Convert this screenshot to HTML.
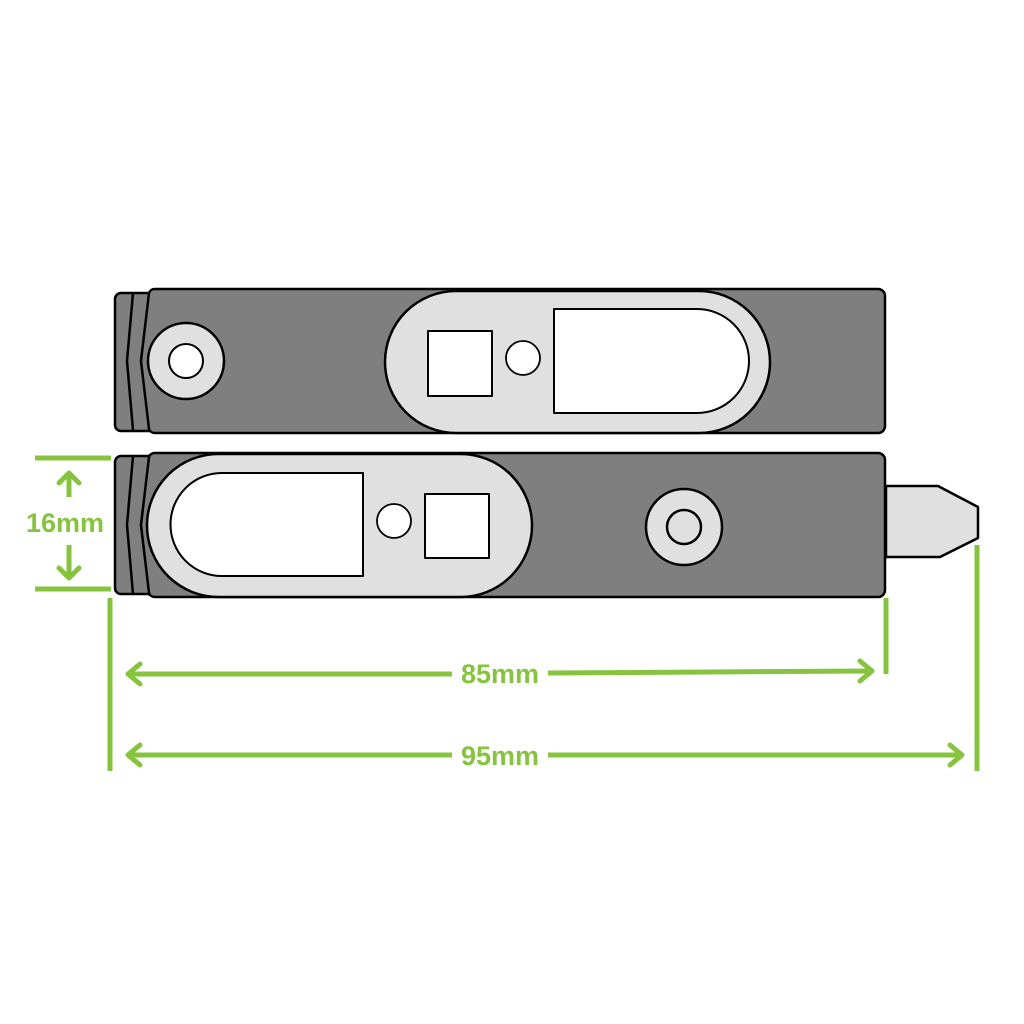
<!DOCTYPE html>
<html><head><meta charset="utf-8"><style>html,body{margin:0;padding:0;background:#fff}svg{display:block}</style></head>
<body>
<svg width="1024" height="1024" viewBox="0 0 1024 1024" xmlns="http://www.w3.org/2000/svg">
<rect width="1024" height="1024" fill="#fff"/>
<g stroke="#000" stroke-width="2.5" stroke-linejoin="round">
<!-- TOP BAR -->
<rect x="115" y="293" width="40" height="138" rx="6" fill="#7f7f7f"/>
<path d="M133 293 L127 361 L133 430" fill="none"/>
<path d="M150 291 L141 361 L150 432" fill="none"/>
<path d="M155 289 H878 a7 7 0 0 1 7 7 V426 a7 7 0 0 1 -7 7 H155 a6 6 0 0 1 -6 -4 L141 361 L149 293 a6 6 0 0 1 6 -4 Z" fill="#7f7f7f"/>
<rect x="385" y="291" width="385" height="142" rx="71" fill="#e0e0e0"/>
<rect x="428" y="331" width="64" height="65" fill="#fff" stroke-width="2"/>
<circle cx="523" cy="358" r="17" fill="#fff" stroke-width="1.8"/>
<path d="M554 309 H697 a52 52 0 0 1 0 104 H554 Z" fill="#fff" stroke-width="2"/>
<circle cx="186" cy="361" r="38" fill="#e0e0e0"/>
<circle cx="186" cy="361" r="17" fill="#fff" stroke-width="2"/>
<!-- BOTTOM BAR -->
<path d="M886 486 H938 L978 507 V538 L940 557 H886 Z" fill="#e0e0e0"/>
<rect x="115" y="456" width="40" height="138" rx="6" fill="#7f7f7f"/>
<path d="M133 456 L127 525 L133 594" fill="none"/>
<path d="M150 454 L141 525 L150 596" fill="none"/>
<path d="M155 453 H878 a7 7 0 0 1 7 7 V590 a7 7 0 0 1 -7 7 H155 a6 6 0 0 1 -6 -4 L141 525 L149 457 a6 6 0 0 1 6 -4 Z" fill="#7f7f7f"/>
<rect x="147" y="454" width="385" height="143" rx="71.5" fill="#e0e0e0"/>
<path d="M363 473 H222 a51.5 51.5 0 0 0 0 103 H363 Z" fill="#fff" stroke-width="2"/>
<circle cx="394" cy="521" r="17" fill="#fff" stroke-width="1.8"/>
<rect x="425" y="494" width="64" height="64" fill="#fff" stroke-width="2"/>
<circle cx="684" cy="527" r="38" fill="#e0e0e0"/>
<circle cx="684" cy="527" r="17" fill="#e0e0e0" stroke-width="2.5"/>
</g>
<!-- DIMENSIONS -->
<g stroke="#86c440" stroke-width="5" fill="none" stroke-linecap="butt">
<line x1="35" y1="458" x2="111" y2="458"/>
<line x1="35" y1="589" x2="111" y2="589"/>
<line x1="69" y1="473" x2="69" y2="497"/>
<polyline points="59,483 69,473 79,483" stroke-linecap="round" stroke-linejoin="round"/>
<line x1="69" y1="545" x2="69" y2="577"/>
<polyline points="59,568 69,578 79,568" stroke-linecap="round" stroke-linejoin="round"/>
<line x1="110" y1="598" x2="110" y2="771"/>
<line x1="886" y1="598" x2="886" y2="674"/>
<line x1="977" y1="545" x2="977" y2="771"/>
<line x1="128" y1="674" x2="452" y2="674"/>
<line x1="548" y1="673" x2="872" y2="671"/>
<polyline points="140,664 128,674 140,684" stroke-linecap="round" stroke-linejoin="round"/>
<polyline points="860,661 872,671 860,681" stroke-linecap="round" stroke-linejoin="round"/>
<line x1="128" y1="755" x2="452" y2="755"/>
<line x1="548" y1="755" x2="962" y2="755"/>
<polyline points="140,745 128,755 140,765" stroke-linecap="round" stroke-linejoin="round"/>
<polyline points="950,745 962,755 950,765" stroke-linecap="round" stroke-linejoin="round"/>
</g>
<g fill="#86c440" font-family="Liberation Sans, sans-serif" font-weight="bold" font-size="27" text-anchor="middle">
<text x="65" y="532">16mm</text>
<text x="500" y="683">85mm</text>
<text x="500" y="765">95mm</text>
</g>
</svg>
</body></html>
